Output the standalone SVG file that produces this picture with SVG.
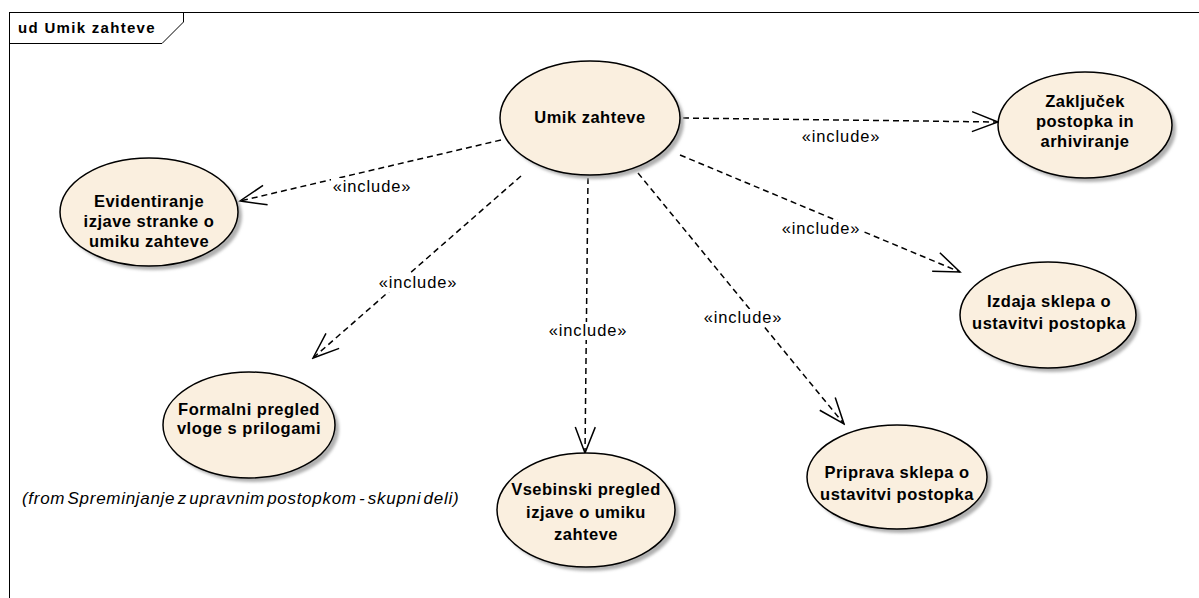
<svg xmlns="http://www.w3.org/2000/svg" width="1199" height="598" viewBox="0 0 1199 598">
  <defs>
    <marker id="open-arrow" markerUnits="userSpaceOnUse" viewBox="-30 -15 32 30" refX="0" refY="0" markerWidth="32" markerHeight="30" orient="auto">
      <path d="M-26,-10 L0,0 L-26,10" fill="none" stroke="#000" stroke-width="1.5"/>
    </marker>
    <filter id="soft" x="-20%" y="-20%" width="140%" height="140%">
      <feGaussianBlur stdDeviation="1.5"/>
    </filter>
  </defs>
  <style>
    .frame { fill: none; stroke: #000; stroke-width: 1; }
    .uc { fill: #FAEFDF; stroke: #000; stroke-width: 1.5; }
    .shadow { fill: #b0b0b0; filter: url(#soft); }
    .name { font-family: "Liberation Sans", Arial, sans-serif; font-weight: bold; font-size: 16.5px; letter-spacing: 0.5px; text-anchor: middle; fill: #000; }
    .title { font-family: "Liberation Sans", Arial, sans-serif; font-weight: bold; font-size: 15px; letter-spacing: 1.3px; fill: #000; }
    .label { font-family: "Liberation Sans", Arial, sans-serif; font-size: 16.5px; letter-spacing: 0.9px; text-anchor: middle; fill: #000; }
    .note { font-family: "Liberation Sans", Arial, sans-serif; font-style: italic; font-size: 17px; letter-spacing: 0.7px; word-spacing: -3px; fill: #000; }
    .dep { fill: none; stroke: #000; stroke-width: 1.5; stroke-dasharray: 6 4; marker-end: url(#open-arrow); }
    .lbl-bg { fill: #fff; }
  </style>

  <!-- diagram frame with name tab -->
  <g id="frame">
    <rect class="frame" x="9.5" y="12.5" width="1250" height="650"/>
    <path class="frame" d="M9.5,43.5 H162 L183.5,22 V12.5"/>
    <text class="title" x="18" y="33">ud Umik zahteve</text>
  </g>

  <!-- include dependencies -->
  <g id="connectors">
    <line class="dep" x1="683" y1="118" x2="998" y2="122"/>
    <line class="dep" x1="680" y1="155" x2="960" y2="272"/>
    <line class="dep" x1="501" y1="140" x2="240" y2="201"/>
    <line class="dep" x1="521" y1="176" x2="313" y2="358"/>
    <line class="dep" x1="588" y1="178" x2="585" y2="453"/>
    <line class="dep" x1="638" y1="173" x2="844" y2="424"/>

    <rect class="lbl-bg" x="801" y="128" width="81" height="18"/>
    <text class="label" x="841" y="142">«include»</text>
    <rect class="lbl-bg" x="780" y="220" width="81" height="18"/>
    <text class="label" x="821" y="234">«include»</text>
    <rect class="lbl-bg" x="331" y="178" width="81" height="18"/>
    <text class="label" x="372" y="192">«include»</text>
    <rect class="lbl-bg" x="377" y="274" width="81" height="18"/>
    <text class="label" x="418" y="288">«include»</text>
    <rect class="lbl-bg" x="547" y="322" width="81" height="18"/>
    <text class="label" x="588" y="336">«include»</text>
    <rect class="lbl-bg" x="702" y="309" width="81" height="18"/>
    <text class="label" x="743" y="323">«include»</text>
  </g>

  <g id="uc-umik">
    <ellipse class="shadow" cx="594" cy="122" rx="90" ry="57"/>
    <ellipse class="uc" cx="590" cy="118" rx="90" ry="57"/>
    <text class="name" x="590" y="123">Umik zahteve</text>
  </g>

  <g id="uc-evidentiranje">
    <ellipse class="shadow" cx="153" cy="216" rx="89" ry="54"/>
    <ellipse class="uc" cx="149" cy="212" rx="89" ry="54"/>
    <text class="name" x="149" y="207">Evidentiranje</text>
    <text class="name" x="149" y="227">izjave stranke o</text>
    <text class="name" x="149" y="247">umiku zahteve</text>
  </g>

  <g id="uc-zakljucek">
    <ellipse class="shadow" cx="1089" cy="129" rx="87" ry="53"/>
    <ellipse class="uc" cx="1085" cy="125" rx="87" ry="53"/>
    <text class="name" x="1085" y="107">Zaključek</text>
    <text class="name" x="1085" y="127">postopka in</text>
    <text class="name" x="1085" y="147">arhiviranje</text>
  </g>

  <g id="uc-izdaja">
    <ellipse class="shadow" cx="1052" cy="319" rx="88" ry="53"/>
    <ellipse class="uc" cx="1048" cy="315" rx="88" ry="53"/>
    <text class="name" x="1049" y="307">Izdaja sklepa o</text>
    <text class="name" x="1049" y="329">ustavitvi postopka</text>
  </g>

  <g id="uc-formalni">
    <ellipse class="shadow" cx="253" cy="429" rx="86" ry="53"/>
    <ellipse class="uc" cx="249" cy="425" rx="86" ry="53"/>
    <text class="name" x="249" y="415">Formalni pregled</text>
    <text class="name" x="249" y="434">vloge s prilogami</text>
    <text class="note" x="22" y="504">(from Spreminjanje z upravnim postopkom - skupni deli)</text>
  </g>

  <g id="uc-vsebinski">
    <ellipse class="shadow" cx="590" cy="514" rx="89" ry="57"/>
    <ellipse class="uc" cx="586" cy="510" rx="89" ry="57"/>
    <text class="name" x="586" y="495">Vsebinski pregled</text>
    <text class="name" x="586" y="518">izjave o umiku</text>
    <text class="name" x="586" y="540">zahteve</text>
  </g>

  <g id="uc-priprava">
    <ellipse class="shadow" cx="901" cy="481" rx="90" ry="52"/>
    <ellipse class="uc" cx="897" cy="477" rx="90" ry="52"/>
    <text class="name" x="897" y="478">Priprava sklepa o</text>
    <text class="name" x="897" y="500">ustavitvi postopka</text>
  </g>
</svg>
